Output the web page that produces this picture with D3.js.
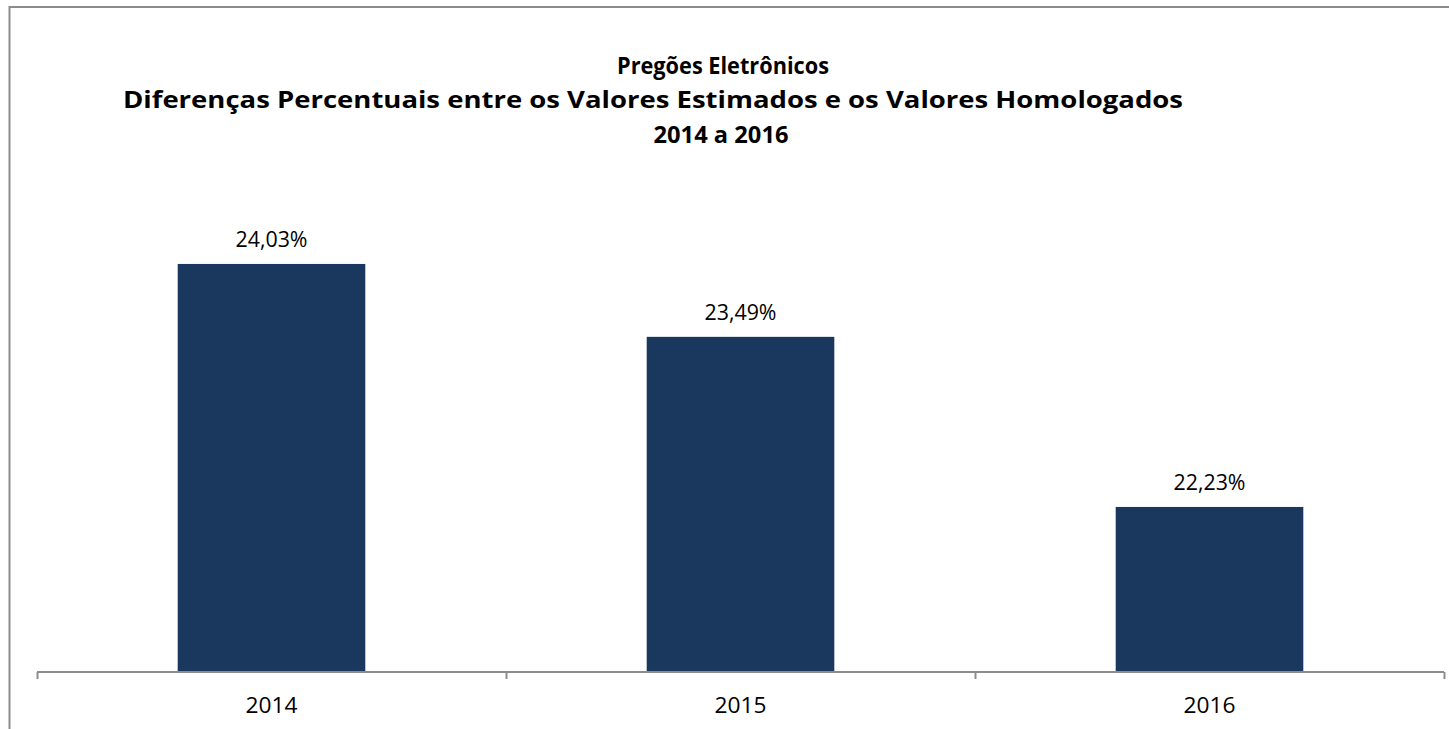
<!DOCTYPE html>
<html>
<head>
<meta charset="utf-8">
<script src="https://cdn.jsdelivr.net/npm/d3@7"></script>
<style>
  html, body { margin: 0; padding: 0; background: #ffffff; }
  svg { display: block; }
  text { font-family: "Open Sans", "Noto Sans", Lato, sans-serif; }
</style>
</head>
<body>
<script>
const categories = ["2014", "2015", "2016"];
const values = [24.03, 23.49, 22.23];
const valueLabels = ["24,03%", "23,49%", "22,23%"];
const titleLines = [
  "Pregões Eletrônicos",
  "Diferenças Percentuais entre os Valores Estimados e os Valores Homologados",
  "2014 a 2016"
];

const W = 1449, H = 729;
const svg = d3.select("body").append("svg").attr("width", W).attr("height", H);

// chart border (only left and top visible)
svg.append("path")
  .attr("d", `M9.5,${H} L9.5,7 L${W},7`)
  .attr("fill", "none").attr("stroke", "#8c8c8c").attr("stroke-width", 2);

// title
const titleSpecs = [
  { cx: 723, y: 74, len: 212 },
  { cx: 653, y: 108, len: 1060 },
  { cx: 721, y: 143, len: 135 }
];
svg.append("g").selectAll("text").data(titleLines).join("text")
  .attr("x", (d, i) => titleSpecs[i].cx)
  .attr("y", (d, i) => titleSpecs[i].y)
  .attr("text-anchor", "middle")
  .attr("font-weight", "bold")
  .attr("font-size", 23.5)
  .attr("fill", "#000")
  .attr("textLength", (d, i) => titleSpecs[i].len)
  .attr("lengthAdjust", "spacingAndGlyphs")
  .text(d => d);

const x0 = 37, x1 = 1444;
const x = d3.scaleBand().domain(categories).range([x0, x1])
  .paddingInner(0.6).paddingOuter(0.3);
const y = d3.scaleLinear().domain([21, 25]).range([672, 132]);

// bars
svg.append("g").selectAll("rect").data(values).join("rect")
  .attr("x", (d, i) => x(categories[i]))
  .attr("y", d => y(d) + 1)
  .attr("width", x.bandwidth())
  .attr("height", d => y(21) - y(d) - 1)
  .attr("fill", "#1a375d");

// value labels
svg.append("g").selectAll("text").data(values).join("text")
  .attr("x", (d, i) => x(categories[i]) + x.bandwidth() / 2)
  .attr("y", d => y(d) - 16)
  .attr("text-anchor", "middle")
  .attr("font-size", 21.5)
  .attr("fill", "#000")
  .attr("textLength", 72)
  .attr("lengthAdjust", "spacingAndGlyphs")
  .text((d, i) => valueLabels[i]);

// axis with boundary ticks
const boundary = d3.scaleLinear().domain([0, categories.length]).range([x0, x1]);
const axisG = svg.append("g").attr("transform", `translate(0,${y(21)})`);
axisG.call(d3.axisBottom(boundary).tickValues(d3.range(categories.length + 1)).tickSize(7).tickFormat(""));
axisG.select(".domain").attr("stroke", "#8c8c8c").attr("stroke-width", 2).attr("d", `M${x0},0H${x1}`);
axisG.selectAll(".tick line").attr("stroke", "#8c8c8c").attr("stroke-width", 2);

// category labels
const labG = svg.append("g").attr("transform", `translate(0,${y(21)})`);
labG.call(d3.axisBottom(x).tickSize(0).tickPadding(0));
labG.select(".domain").remove();
labG.selectAll(".tick text")
  .attr("y", 41).attr("dy", null)
  .attr("font-size", 21.5)
  .attr("fill", "#000")
  .attr("font-family", "'Open Sans', 'Noto Sans', Lato, sans-serif")
  .attr("textLength", 52)
  .attr("lengthAdjust", "spacingAndGlyphs");
</script>
</body>
</html>
